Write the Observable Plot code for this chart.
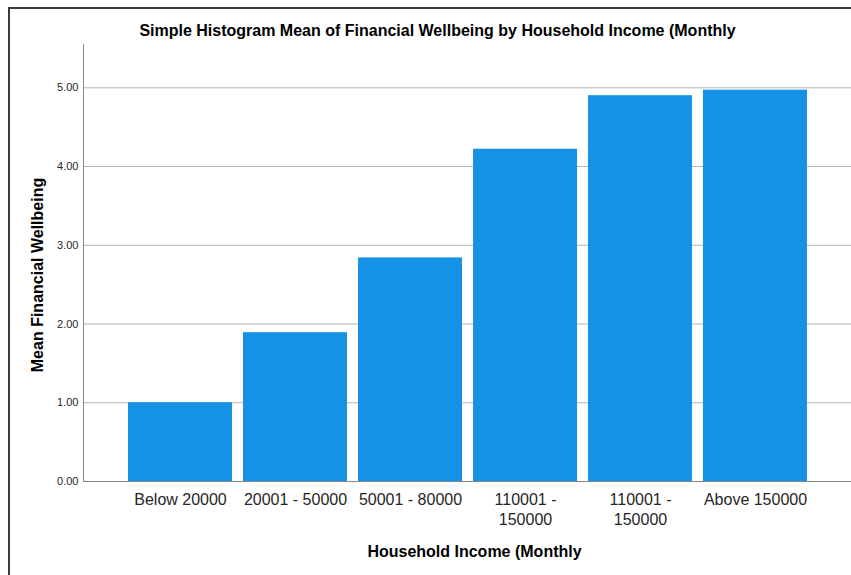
<!DOCTYPE html>
<html><head><meta charset="utf-8">
<script src="https://cdn.jsdelivr.net/npm/d3@7"></script>
<script src="https://cdn.jsdelivr.net/npm/@observablehq/plot@0.6"></script>
<style>
body{margin:0;background:#fff;}
#wrap{position:relative;width:851px;height:575px;overflow:hidden;font-family:"Liberation Sans",Arial,sans-serif;}
#border{position:absolute;left:8px;top:7px;width:900px;height:700px;border-left:2px solid #3a3a3a;border-top:2px solid #3a3a3a;}
#wrap svg{position:absolute;left:0;top:0;}
</style></head>
<body><div id="wrap"><div id="border"></div></div>
<script>
const chartTitle = "Simple Histogram Mean of Financial Wellbeing by Household Income (Monthly";
const xTitle = "Household Income (Monthly";
const yTitle = "Mean Financial Wellbeing";
const categories = ["Below 20000", "20001 - 50000", "50001 - 80000", "110001 - 150000", "110001 - 150000", "Above 150000"];
const means = [1.00, 1.89, 2.84, 4.22, 4.90, 4.97];
const yTicks = [0, 1, 2, 3, 4, 5];

const data = categories.map((c, i) => ({i, c, m: means[i]}));
const wrapLabel = s => s.length > 13 ? s.replace(" - ", " -\n") : s;
const font = '"Liberation Sans", Arial, sans-serif';

const chart = Plot.plot({
  width: 851, height: 575,
  marginLeft: 83, marginRight: 0, marginTop: 44, marginBottom: 94,
  style: {fontFamily: font, background: "transparent", color: "#262626"},
  x: {type: "band", domain: d3.range(categories.length), paddingInner: 0.1, paddingOuter: 0.38, label: null},
  y: {domain: [0, 5.55], label: null},
  marks: [
    Plot.gridY(yTicks.filter(d => d > 0), {stroke: "#b4b4b4", strokeOpacity: 1}),
    Plot.barY(data, {x: "i", y: "m", fill: "#1591e6"}),
    Plot.axisY(yTicks, {tickSize: 0, tickPadding: 5, fontSize: 11, tickFormat: d => d.toFixed(2), label: null}),
    Plot.axisX({tickSize: 0, tickPadding: 9, fontSize: 16, lineHeight: 1.25, tickFormat: i => wrapLabel(categories[i]), label: null}),
    Plot.ruleY([0], {stroke: "#888"}),
    Plot.frame({anchor: "left", stroke: "#888"}),
    Plot.text([chartTitle], {text: d => d, frameAnchor: "top", dy: -20, dx: -30, fontSize: 16, fontWeight: "bold", fill: "#000"}),
    Plot.text([xTitle], {text: d => d, frameAnchor: "bottom", dy: 75, dx: 7, fontSize: 16, fontWeight: "bold", fill: "#000"}),
    Plot.text([yTitle], {text: d => d, frameAnchor: "left", textAnchor: "middle", rotate: -90, dx: -46, dy: 12, fontSize: 16, fontWeight: "bold", fill: "#000"})
  ]
});
document.getElementById("wrap").appendChild(chart);
</script>
</body></html>
